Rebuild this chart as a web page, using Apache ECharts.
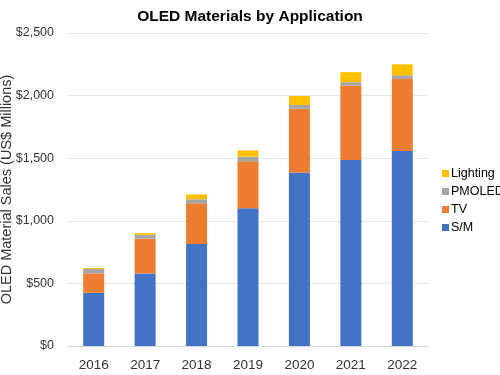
<!DOCTYPE html>
<html>
<head>
<meta charset="utf-8">
<script src="https://cdn.jsdelivr.net/npm/echarts@6/dist/echarts.min.js"></script>
<style>
  html, body { margin: 0; padding: 0; background: #fff; }
  #chart { width: 500px; height: 375px; }
</style>
</head>
<body>
<div id="chart"></div>
<script>
const years = ['2016', '2017', '2018', '2019', '2020', '2021', '2022'];
const sm = [425, 580, 815, 1100, 1385, 1485, 1558];
const tv = [155, 277, 325, 375, 510, 595, 575];
const pmoled = [35, 32, 32, 37, 30, 27, 29];
const lighting = [8, 13, 39, 50, 72, 80, 88];

const font = 'Liberation Sans, Arial, sans-serif';

const bar = (name, data, color) => ({
  name,
  type: 'bar',
  stack: 'total',
  barWidth: 21,
  itemStyle: { color },
  data,
});

const chart = echarts.init(document.getElementById('chart'));
chart.setOption({
  animation: false,
  title: {
    text: 'OLED Materials by Application',
    left: 'center',
    top: 4,
    textStyle: { fontFamily: font, fontSize: 15.5, fontWeight: 'bold', color: '#000' },
  },
  legend: {
    orient: 'vertical',
    left: 437,
    top: 162,
    itemWidth: 7,
    itemHeight: 7,
    itemGap: 5,
    icon: 'rect',
    textStyle: { fontFamily: font, fontSize: 12.5, color: '#000', padding: [0, 0, 0, -3] },
    data: ['Lighting', 'PMOLED', 'TV', 'S/M'],
  },
  grid: { left: 68, right: 72, top: 33, bottom: 29, outerBoundsMode: 'none', containLabel: false },
  xAxis: {
    type: 'category',
    data: years,
    axisTick: { show: false },
    axisLine: { lineStyle: { color: '#d9d9d9' } },
    axisLabel: { fontFamily: font, fontSize: 13.5, color: '#333', margin: 12 },
  },
  yAxis: {
    type: 'value',
    min: 0,
    max: 2500,
    interval: 500,
    name: 'OLED Material Sales (US$ Millions)',
    nameLocation: 'middle',
    nameGap: 54,
    nameMoveOverlap: false,
    nameTextStyle: { fontFamily: font, fontSize: 14.5, color: '#333' },
    splitLine: { lineStyle: { color: '#e6e6e6' } },
    axisLabel: {
      fontFamily: font,
      fontSize: 12.5,
      color: '#333',
      margin: 14,
      formatter: v => '$' + v.toLocaleString('en-US'),
    },
  },
  series: [
    bar('S/M', sm, '#4472C4'),
    bar('TV', tv, '#ED7D31'),
    bar('PMOLED', pmoled, '#A5A5A5'),
    bar('Lighting', lighting, '#FFC000'),
  ],
});
</script>
</body>
</html>
